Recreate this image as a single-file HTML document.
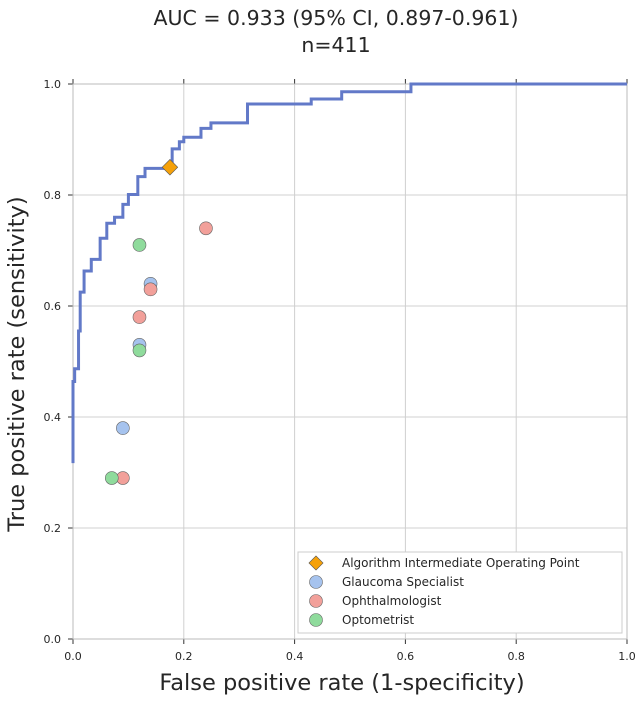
<!DOCTYPE html>
<html><head><meta charset="utf-8"><style>
body{margin:0;background:#fff;}
svg text{font-family:"DejaVu Sans","Liberation Sans",sans-serif;fill:#262626;}
</style></head><body>
<svg id="chart" width="640" height="697" xmlns="http://www.w3.org/2000/svg">
<text x="336" y="25" font-size="20.5" text-anchor="middle">AUC = 0.933 (95% CI, 0.897-0.961)</text>
<text x="336" y="52" font-size="20.5" text-anchor="middle">n=411</text>
<g id="grid"></g><g id="axes"></g><g id="marks"></g>
<text x="342" y="690" font-size="22.5" text-anchor="middle">False positive rate (1-specificity)</text>
<text transform="translate(24,364) rotate(-90)" font-size="22.5" text-anchor="middle">True positive rate (sensitivity)</text>
<g>
<rect x="298" y="552" width="324" height="81" fill="#fff" stroke="#ccc"/>
<rect x="311" y="558" width="10" height="10" fill="#f5a10a" stroke="#555" stroke-width="0.6" transform="rotate(45 316 563)"/>
<text x="342" y="567" font-size="12">Algorithm Intermediate Operating Point</text>
<circle cx="316" cy="582" r="6.5" fill="#a6c3ee" stroke="#666" stroke-width="0.6"/>
<text x="342" y="586" font-size="12">Glaucoma Specialist</text>
<circle cx="316" cy="601" r="6.5" fill="#f2a09a" stroke="#666" stroke-width="0.6"/>
<text x="342" y="605" font-size="12">Ophthalmologist</text>
<circle cx="316" cy="620" r="6.5" fill="#8fdb9c" stroke="#666" stroke-width="0.6"/>
<text x="342" y="624" font-size="12">Optometrist</text>
</g>
</svg>
<script>
const rocFpr=[0,0,0.003,0.003,0.01,0.01,0.013,0.013,0.02,0.02,0.033,0.033,0.049,0.049,0.061,0.061,0.075,0.075,0.09,0.09,0.1,0.1,0.117,0.117,0.13,0.13,0.179,0.179,0.192,0.192,0.2,0.2,0.231,0.231,0.249,0.249,0.315,0.315,0.43,0.43,0.485,0.485,0.61,0.61,1.0];
const rocTpr=[0.317,0.464,0.464,0.487,0.487,0.555,0.555,0.625,0.625,0.663,0.663,0.684,0.684,0.722,0.722,0.749,0.749,0.76,0.76,0.783,0.783,0.801,0.801,0.833,0.833,0.848,0.848,0.883,0.883,0.896,0.896,0.904,0.904,0.92,0.92,0.93,0.93,0.964,0.964,0.973,0.973,0.986,0.986,1.0,1.0];
const algoPoint=[0.175,0.85];
const glaucomaFpr=[0.09,0.14,0.12], glaucomaTpr=[0.38,0.64,0.53];
const ophthFpr=[0.24,0.14,0.12,0.09], ophthTpr=[0.74,0.63,0.58,0.29];
const optomFpr=[0.12,0.12,0.07], optomTpr=[0.71,0.52,0.29];
const ticks=[0,0.2,0.4,0.6,0.8,1.0];
const tickLabels=["0.0","0.2","0.4","0.6","0.8","1.0"];
const X0=73,X1=627,Y0=639,Y1=84;
const sx=v=>X0+v*(X1-X0), sy=v=>Y0-v*(Y0-Y1);
const NS="http://www.w3.org/2000/svg";
function mk(tag,attrs,parent){const e=document.createElementNS(NS,tag);for(const k in attrs)e.setAttribute(k,attrs[k]);parent.appendChild(e);return e;}
const grid=document.getElementById('grid'),axes=document.getElementById('axes'),marks=document.getElementById('marks');
ticks.forEach((t,i)=>{
 const gx=mk('line',{x1:sx(t),x2:sx(t),y1:Y1,y2:Y0,stroke:'#d0d0d0','stroke-width':1},grid);
 
 
 const gy=mk('line',{x1:X0,x2:X1,y1:sy(t),y2:sy(t),stroke:'#d0d0d0','stroke-width':1},grid);
 
 
 mk('line',{x1:sx(t),x2:sx(t),y1:Y0,y2:Y0+5,stroke:'#333'},axes);
 mk('line',{x1:sx(t),x2:sx(t),y1:Y1,y2:Y1-5,stroke:'#333'},axes);
 mk('line',{x1:X0-5,x2:X0,y1:sy(t),y2:sy(t),stroke:'#333'},axes);
 const xl=mk('text',{x:sx(t),y:Y0+21,'font-size':11,'text-anchor':'middle'},axes);xl.textContent=tickLabels[i];
 
 
 const yl=mk('text',{x:X0-12,y:sy(t)+4,'font-size':11,'text-anchor':'end'},axes);yl.textContent=tickLabels[i];
 
 
});
mk('rect',{x:X0,y:Y1,width:X1-X0,height:Y0-Y1,fill:'none',stroke:'#bbb'},axes);
const pts=rocFpr.map((f,i)=>sx(f)+','+sy(rocTpr[i])).join(' ');
const roc=mk('polyline',{points:pts,fill:'none',stroke:'#6279c8','stroke-width':3},marks);


function dots(fs,ts,fill,name){fs.forEach((f,i)=>{const c=mk('circle',{cx:sx(f),cy:sy(ts[i]),r:6.5,fill:fill,stroke:'#666','stroke-width':0.6},marks);
 
 });}
dots(glaucomaFpr,glaucomaTpr,'#a6c3ee','glaucoma-point');
dots(ophthFpr,ophthTpr,'#f2a09a','ophthalmologist-point');
dots(optomFpr,optomTpr,'#8fdb9c','optometrist-point');
const ax=sx(algoPoint[0]),ay=sy(algoPoint[1]);
const d=mk('rect',{x:ax-5.5,y:ay-5.5,width:11,height:11,fill:'#f5a10a',stroke:'#555','stroke-width':0.6,transform:`rotate(45 ${ax} ${ay})`},marks);


</script>
</body></html>
